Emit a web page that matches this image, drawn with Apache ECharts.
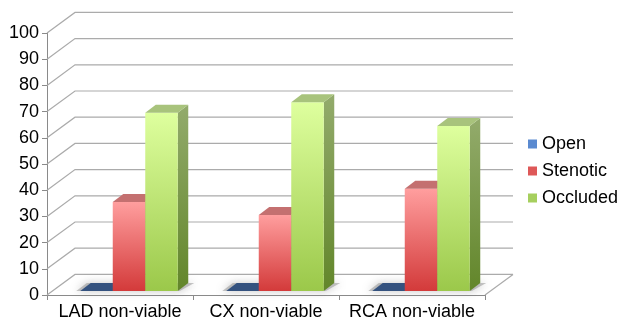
<!DOCTYPE html>
<html>
<head>
<meta charset="utf-8">
<script src="https://cdn.jsdelivr.net/npm/echarts@6/dist/echarts.min.js"></script>
<style>
  html, body { margin: 0; padding: 0; background: #ffffff; }
  #chart { width: 619px; height: 322px; }
</style>
</head>
<body>
<div id="chart"></div>
<script>
// ---- data ----
const categories = ['LAD non-viable', 'CX non-viable', 'RCA non-viable'];
const seriesNames = ['Open', 'Stenotic', 'Occluded'];
const openValues = [0, 0, 0];
const stenoticValues = [34, 29, 39];
const occludedValues = [68, 72, 63];
const valueTicks = [0, 10, 20, 30, 40, 50, 60, 70, 80, 90, 100];

// ---- oblique 3D look ----
const WALL_DX = 28, WALL_DY = -20.6;   // back wall offset from the front plane
const BAR_DX = 9, BAR_DY = -4;         // front face of the bars
const BAR_DEPTH_X = 10.5, BAR_DEPTH_Y = -8;
const BAR_RATIO = 0.2226;              // bar width as a share of a category band
const FONT = "'Liberation Sans', Arial, sans-serif";

const palette = {
  Open: {
    legend: '#5a8ad0',
    front: ['#5a8ad0', '#3a64a0'],
    side: ['#34507c', '#2a4266'],
    top: '#34527f'
  },
  Stenotic: {
    legend: '#de5858',
    front: ['#ff9e9e', '#d33a3a'],
    side: ['#b85a5a', '#8c2c2c'],
    top: '#c47070'
  },
  Occluded: {
    legend: '#a6cf5e',
    front: ['#deff9e', '#9bc84a'],
    side: ['#93ab6c', '#62862a'],
    top: '#a8c37c'
  }
};

function vgrad(c) {
  return new echarts.graphic.LinearGradient(0, 0, 0, 1, [
    { offset: 0, color: c[0] }, { offset: 1, color: c[1] }
  ]);
}

// back wall grid, side wall slants and the floor edge
function wallRender(params, api) {
  const cs = params.coordSys;
  const v = api.value(1);
  const y = api.coord([0, v])[1];
  const L = cs.x, R = cs.x + cs.width;
  const children = [{
    type: 'polyline',
    shape: { points: [[L, y], [L + WALL_DX, y + WALL_DY], [R + WALL_DX, y + WALL_DY]] },
    style: { stroke: '#ababab', lineWidth: 1.2, fill: null }
  }];
  if (v === 0) {
    children.push({
      type: 'line',
      shape: { x1: R, y1: y, x2: R + WALL_DX, y2: y + WALL_DY },
      style: { stroke: '#ababab', lineWidth: 1.2 }
    });
  }
  return { type: 'group', children: children };
}

// soft shadow under each cluster of bars
function shadowRender(params, api) {
  const ci = api.value(0);
  const base = api.coord([ci, 0]);
  const band = api.size([1, 0])[0];
  const bw = band * BAR_RATIO;
  const xl = base[0] + BAR_DX - 1.5 * bw;
  const xr = xl + 3 * bw;
  const yb = base[1] + BAR_DY;
  return {
    type: 'polygon',
    shape: { points: [[xl - 4, yb], [xr + 2, yb], [xr + BAR_DEPTH_X + 6, yb + BAR_DEPTH_Y], [xl + BAR_DEPTH_X - 4, yb + BAR_DEPTH_Y]] },
    style: { fill: 'rgba(150,150,150,0.55)', shadowBlur: 8, shadowColor: 'rgba(120,120,120,0.8)' }
  };
}

function barRender(name, slot) {
  const p = palette[name];
  return function (params, api) {
    const ci = api.value(0), v = api.value(1);
    const base = api.coord([ci, 0]);
    const topPt = api.coord([ci, v]);
    const band = api.size([1, 0])[0];
    const bw = band * BAR_RATIO;
    const xl = base[0] + BAR_DX + (slot - 1.5) * bw;
    const xr = xl + bw;
    const yb = base[1] + BAR_DY;
    const yt = topPt[1] + BAR_DY;
    const children = [];
    if (yb - yt > 0.5) {
      children.push({
        type: 'polygon',
        shape: { points: [[xr, yt], [xr + BAR_DEPTH_X, yt + BAR_DEPTH_Y], [xr + BAR_DEPTH_X, yb + BAR_DEPTH_Y], [xr, yb]] },
        style: { fill: vgrad(p.side) }
      });
      children.push({
        type: 'rect',
        shape: { x: xl, y: yt, width: bw, height: yb - yt },
        style: { fill: vgrad(p.front) }
      });
    }
    children.push({
      type: 'polygon',
      shape: { points: [[xl, yt], [xr, yt], [xr + BAR_DEPTH_X, yt + BAR_DEPTH_Y], [xl + BAR_DEPTH_X, yt + BAR_DEPTH_Y]] },
      style: { fill: p.top }
    });
    return { type: 'group', children: children };
  };
}

const valuesByName = { Open: openValues, Stenotic: stenoticValues, Occluded: occludedValues };

const barSeries = seriesNames.map(function (name, slot) {
  return {
    name: name,
    type: 'custom',
    clip: false,
    z: 3,
    renderItem: barRender(name, slot),
    encode: { x: 0, y: 1 },
    itemStyle: { color: palette[name].legend },
    data: valuesByName[name].map(function (v, i) { return [i, v]; })
  };
});

const chart = echarts.init(document.getElementById('chart'), null, { renderer: 'canvas' });

chart.setOption({
  animation: false,
  backgroundColor: '#ffffff',
  textStyle: { fontFamily: FONT },
  grid: { left: 47, right: 134, top: 33, bottom: 27 },
  legend: {
    orient: 'vertical',
    left: 523,
    top: 130,
    itemWidth: 9,
    itemHeight: 9,
    itemGap: 9,
    icon: 'rect',
    data: seriesNames,
    textStyle: { fontSize: 18, color: '#000000', fontFamily: FONT }
  },
  xAxis: {
    type: 'category',
    data: categories,
    boundaryGap: true,
    axisLine: { show: true, lineStyle: { color: '#8a8a8a', width: 1 } },
    axisTick: { show: true, length: 5, lineStyle: { color: '#8a8a8a' } },
    axisLabel: { interval: 0, fontSize: 18, color: '#000000', margin: 8, fontFamily: FONT },
    splitLine: { show: false }
  },
  yAxis: {
    type: 'value',
    min: 0,
    max: 100,
    interval: 10,
    axisLine: { show: true, lineStyle: { color: '#8a8a8a', width: 1 } },
    axisTick: { show: true, length: 5, lineStyle: { color: '#8a8a8a' } },
    axisLabel: { fontSize: 18, color: '#000000', margin: 8, fontFamily: FONT },
    splitLine: { show: false }
  },
  series: [
    {
      name: 'wall',
      type: 'custom',
      clip: false,
      z: 1,
      silent: true,
      renderItem: wallRender,
      encode: { x: 0, y: 1 },
      data: valueTicks.map(function (v) { return [0, v]; })
    },
    {
      name: 'shadow',
      type: 'custom',
      clip: false,
      z: 2,
      silent: true,
      renderItem: shadowRender,
      encode: { x: 0, y: 1 },
      data: categories.map(function (c, i) { return [i, 0]; })
    }
  ].concat(barSeries)
});
</script>
</body>
</html>
